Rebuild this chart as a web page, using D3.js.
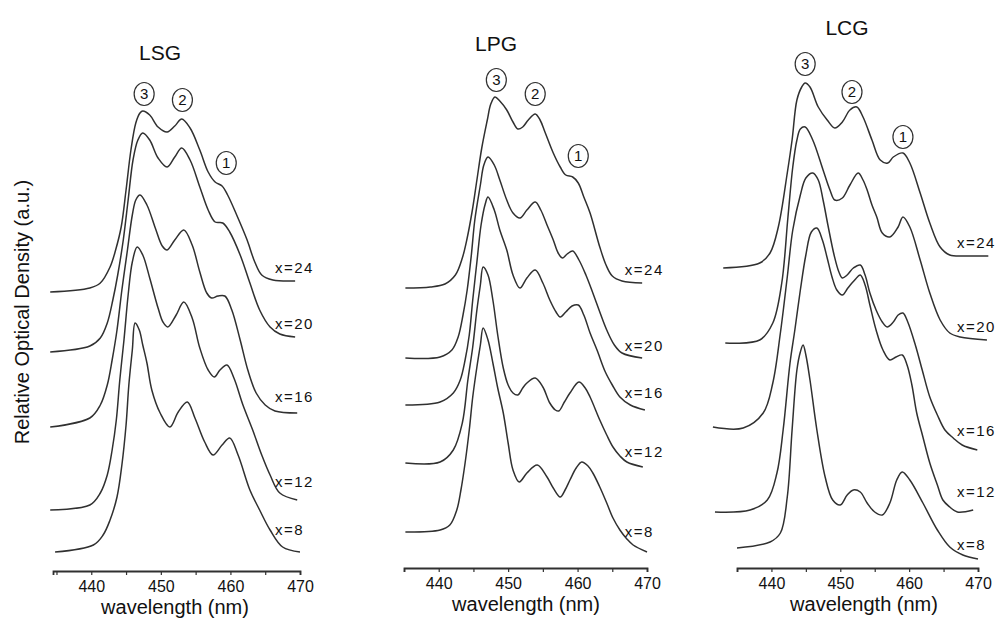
<!DOCTYPE html>
<html>
<head>
<meta charset="utf-8">
<script src="https://cdn.jsdelivr.net/npm/d3@7"></script>
<style>
  body { margin: 0; background: #fff; }
  svg { display: block; font-family: "Liberation Sans", Arial, Helvetica, sans-serif; }
</style>
</head>
<body>
<svg id="chart" width="998" height="621"></svg>
<script>
// ---- data: absorption spectra, [wavelength nm, relative optical density a.u.] (stacked) ----
const panelNames = ["LSG", "LPG", "LCG"];
const sampleLabels = ["x=24", "x=20", "x=16", "x=12", "x=8"];
const wavelengthTicks = [440, 450, 460, 470];
const peakNames = ["3", "2", "1"];

const lsgX24 = [[434.1,2.79],[439.8,2.83],[441.3,2.88],[442.7,3.04],[443.5,3.21],[444.3,3.44],[445.0,3.81],[445.7,4.21],[446.4,4.48],[447.0,4.58],[447.4,4.60],[448.4,4.56],[449.6,4.44],[450.9,4.39],[452.0,4.45],[453.0,4.52],[454.2,4.43],[455.6,4.21],[456.8,3.99],[457.8,3.89],[458.8,3.85],[459.6,3.76],[460.9,3.56],[462.4,3.31],[463.5,3.09],[464.5,2.96],[466.1,2.91],[469.3,2.90]];
const lsgX20 = [[434.1,2.19],[439.8,2.25],[441.3,2.33],[442.3,2.48],[443.1,2.71],[443.8,2.96],[444.6,3.31],[445.3,3.71],[446.0,4.11],[446.7,4.31],[447.4,4.38],[448.4,4.31],[449.6,4.13],[450.9,4.04],[452.0,4.14],[453.0,4.23],[454.2,4.11],[455.6,3.84],[456.8,3.61],[457.8,3.49],[458.9,3.48],[459.9,3.39],[461.4,3.16],[462.8,2.88],[464.2,2.61],[465.7,2.44],[467.1,2.37],[469.3,2.34]];
const lsgX16 = [[434.1,1.44],[439.8,1.53],[441.3,1.66],[442.3,1.86],[443.0,2.11],[443.7,2.41],[444.4,2.81],[445.2,3.21],[445.9,3.56],[446.4,3.71],[447.0,3.76],[448.0,3.66],[449.2,3.43],[450.2,3.25],[450.9,3.21],[452.0,3.31],[453.3,3.41],[454.5,3.26],[455.6,2.99],[456.6,2.78],[457.3,2.73],[458.2,2.75],[459.2,2.75],[460.2,2.61],[461.4,2.31],[462.5,2.01],[463.7,1.78],[465.0,1.66],[466.4,1.60],[469.6,1.58]];
const lsgX12 = [[434.1,0.61],[439.8,0.66],[441.3,0.78],[442.3,0.96],[443.0,1.21],[443.6,1.51],[444.1,1.91],[444.7,2.31],[445.3,2.76],[445.9,3.09],[446.6,3.24],[447.4,3.16],[448.4,2.93],[449.6,2.63],[450.3,2.49],[451.0,2.44],[452.2,2.56],[453.3,2.69],[454.5,2.53],[455.6,2.23],[456.8,2.01],[457.7,1.94],[458.5,2.01],[459.5,2.06],[460.5,1.93],[461.8,1.66],[463.2,1.41],[464.5,1.16],[465.7,0.96],[467.1,0.78],[469.6,0.71]];
const lsgX8 = [[434.8,0.19],[440.3,0.26],[441.7,0.36],[442.7,0.51],[443.7,0.74],[444.4,1.06],[445.0,1.46],[445.4,1.86],[445.9,2.21],[446.3,2.48],[446.9,2.41],[447.4,2.26],[448.0,2.08],[448.7,1.81],[449.9,1.58],[451.3,1.44],[452.5,1.59],[453.8,1.69],[454.9,1.53],[456.3,1.29],[457.5,1.16],[458.8,1.26],[459.9,1.33],[461.1,1.16],[462.8,0.81],[464.2,0.61],[465.7,0.41],[467.5,0.24],[470.0,0.19]];

const lpgX24 = [[435.2,2.80],[438.8,2.81],[440.9,2.84],[442.4,2.93],[443.4,3.10],[444.1,3.30],[444.8,3.56],[445.5,3.88],[446.2,4.20],[447.0,4.48],[447.5,4.64],[448.1,4.71],[448.8,4.67],[449.8,4.58],[450.7,4.46],[451.4,4.39],[452.1,4.41],[452.9,4.48],[453.9,4.54],[454.6,4.48],[455.3,4.36],[456.5,4.15],[457.5,4.01],[458.3,3.93],[459.3,3.91],[460.1,3.85],[460.9,3.71],[461.8,3.55],[463.2,3.21],[464.1,3.03],[465.0,2.92],[466.4,2.87],[469.3,2.85]];
const lpgX20 = [[435.2,2.10],[440.2,2.11],[441.9,2.18],[442.8,2.31],[443.5,2.53],[444.1,2.78],[444.7,3.13],[445.2,3.48],[446.0,3.83],[446.5,4.03],[447.1,4.11],[448.0,4.03],[448.8,3.88],[449.8,3.68],[450.7,3.55],[451.7,3.50],[452.7,3.58],[453.9,3.66],[454.7,3.58],[455.6,3.43],[456.5,3.28],[457.2,3.15],[457.8,3.10],[458.5,3.14],[459.3,3.17],[460.2,3.08],[461.2,2.93],[462.2,2.75],[463.2,2.56],[464.2,2.38],[465.3,2.23],[466.4,2.15],[469.3,2.10]];
const lpgX16 = [[435.2,1.63],[440.2,1.66],[442.1,1.75],[443.1,1.88],[443.8,2.08],[444.4,2.33],[444.9,2.68],[445.5,3.06],[446.1,3.43],[446.7,3.64],[447.1,3.71],[448.0,3.58],[448.8,3.38],[449.8,3.18],[450.7,2.93],[451.7,2.80],[452.7,2.90],[453.9,2.98],[455.0,2.85],[456.0,2.68],[456.9,2.56],[457.5,2.51],[458.3,2.56],[459.2,2.62],[460.1,2.63],[460.9,2.53],[461.8,2.35],[462.8,2.18],[464.0,1.96],[465.0,1.83],[466.1,1.71],[467.6,1.63],[469.7,1.58]];
const lpgX12 = [[435.2,1.05],[440.2,1.06],[442.1,1.18],[443.4,1.45],[444.2,1.88],[444.9,2.21],[445.5,2.58],[446.0,2.83],[446.4,3.01],[447.1,2.93],[447.8,2.68],[448.5,2.33],[449.3,2.00],[450.0,1.83],[450.7,1.75],[451.4,1.73],[452.1,1.80],[452.7,1.85],[453.9,1.90],[455.0,1.81],[456.0,1.65],[456.8,1.58],[457.3,1.57],[458.1,1.66],[458.9,1.75],[460.2,1.86],[461.1,1.80],[461.8,1.71],[463.2,1.48],[464.2,1.33],[465.1,1.21],[466.1,1.12],[467.1,1.06],[469.4,1.01]];
const lpgX8 = [[435.2,0.36],[440.2,0.38],[441.6,0.43],[442.6,0.58],[443.2,0.78],[443.8,1.05],[444.4,1.38],[444.9,1.71],[445.5,2.01],[446.0,2.23],[446.4,2.40],[447.1,2.28],[447.8,2.05],[448.5,1.80],[449.3,1.55],[450.0,1.25],[450.7,0.98],[451.6,0.86],[452.7,0.95],[454.2,1.03],[455.6,0.91],[456.5,0.80],[457.5,0.71],[458.2,0.78],[458.9,0.88],[459.8,1.00],[460.6,1.06],[461.5,1.02],[462.2,0.95],[463.2,0.81],[464.2,0.65],[465.1,0.50],[466.1,0.38],[467.1,0.29],[468.0,0.23],[470.0,0.16]];

const lcgX24 = [[433.0,3.00],[438.3,3.05],[439.8,3.15],[441.0,3.41],[442.3,3.95],[443.0,4.28],[443.7,4.68],[444.4,4.81],[444.9,4.85],[445.6,4.81],[446.8,4.61],[448.1,4.48],[449.2,4.40],[450.3,4.46],[451.4,4.58],[452.4,4.61],[453.3,4.51],[454.6,4.28],[455.8,4.08],[456.9,4.05],[457.7,4.11],[459.1,4.15],[460.1,4.05],[461.6,3.75],[463.0,3.45],[464.5,3.21],[465.9,3.13],[468.4,3.12],[471.5,3.12]];
const lcgX20 = [[433.3,2.25],[438.3,2.28],[440.2,2.45],[441.5,2.85],[442.4,3.51],[443.1,4.01],[443.7,4.28],[444.2,4.39],[444.9,4.41],[446.0,4.28],[447.5,3.98],[448.5,3.78],[449.2,3.68],[450.3,3.70],[451.4,3.83],[452.6,3.95],[453.3,3.88],[453.9,3.78],[454.6,3.63],[455.3,3.51],[456.1,3.35],[457.2,3.31],[458.4,3.41],[459.1,3.51],[460.1,3.41],[461.6,3.08],[463.0,2.75],[464.5,2.48],[465.9,2.35],[467.4,2.31],[471.3,2.28]];
const lcgX16 = [[431.5,1.41],[435.9,1.40],[438.8,1.55],[440.2,1.85],[441.3,2.35],[442.3,2.91],[443.1,3.38],[444.2,3.73],[445.0,3.90],[446.0,3.95],[446.8,3.88],[447.5,3.68],[448.2,3.43],[449.1,3.13],[449.8,2.96],[450.3,2.90],[451.0,2.93],[451.9,3.00],[452.9,3.03],[453.6,2.93],[454.3,2.75],[455.2,2.58],[456.1,2.46],[456.8,2.41],[457.7,2.46],[458.4,2.53],[459.1,2.55],[459.8,2.46],[460.9,2.23],[461.9,1.98],[463.0,1.71],[464.1,1.53],[465.2,1.38],[466.4,1.30],[467.7,1.23],[469.9,1.18]];
const lcgX12 = [[431.8,0.56],[436.9,0.58],[439.4,0.68],[440.8,0.95],[441.7,1.38],[442.7,2.05],[443.4,2.38],[444.2,2.78],[445.0,3.13],[445.8,3.36],[446.6,3.40],[447.4,3.28],[448.1,3.10],[448.8,2.91],[449.5,2.78],[450.3,2.73],[451.1,2.80],[452.1,2.88],[452.9,2.93],[453.6,2.83],[454.3,2.63],[455.2,2.38],[456.2,2.18],[457.2,2.08],[458.1,2.11],[459.0,2.13],[459.7,2.03],[460.4,1.83],[461.1,1.55],[462.0,1.31],[463.0,1.05],[464.1,0.83],[464.9,0.68],[465.9,0.61],[467.0,0.56],[469.3,0.58]];
const lcgX8 = [[435.0,0.20],[439.8,0.26],[441.3,0.35],[442.3,0.71],[443.0,1.38],[443.7,1.98],[444.2,2.16],[444.6,2.23],[445.0,2.13],[445.6,1.88],[446.6,1.38],[447.8,0.91],[448.9,0.68],[450.0,0.63],[451.0,0.73],[451.9,0.78],[452.9,0.76],[453.9,0.65],[455.0,0.56],[456.1,0.53],[457.2,0.65],[458.2,0.88],[459.0,0.96],[460.1,0.88],[462.0,0.65],[464.1,0.38],[465.9,0.21],[467.8,0.13],[470.0,0.09]];

const lsgSeries = [lsgX24, lsgX20, lsgX16, lsgX12, lsgX8];
const lpgSeries = [lpgX24, lpgX20, lpgX16, lpgX12, lpgX8];
const lcgSeries = [lcgX24, lcgX20, lcgX16, lcgX12, lcgX8];

// ---- layout: pixel placement of each panel, annotation anchors in data units ----
const panels = [
  { name: panelNames[0], series: lsgSeries, domain: [434.5, 470], range: [53, 300], axisY: 571,
    title: [160, 60], xTitleX: 175,
    peakMarks: [[447.6, 4.77], [453.1, 4.71], [459.4, 4.08]],
    labelNm: 466.4, labelAu: [3.03, 2.47, 1.74, 0.89, 0.41] },
  { name: panelNames[1], series: lpgSeries, domain: [435, 470], range: [404, 647], axisY: 568,
    title: [496, 51], xTitleX: 526,
    peakMarks: [[448.3, 4.88], [453.9, 4.74], [460.1, 4.12]],
    labelNm: 466.8, labelAu: [2.98, 2.22, 1.75, 1.16, 0.36] },
  { name: panelNames[2], series: lcgSeries, domain: [435, 470], range: [737, 978], axisY: 568,
    title: [847, 35], xTitleX: 864,
    peakMarks: [[444.9, 5.04], [451.7, 4.76], [459.1, 4.31]],
    labelNm: 466.95, labelAu: [3.25, 2.41, 1.37, 0.76, 0.23] }
];

const ink = "#303030";
const svg = d3.select("#chart");

panels.forEach(p => {
  const x = d3.scaleLinear().domain(p.domain).range(p.range);
  const y = d3.scaleLinear().domain([0, 5.5]).range([p.axisY, p.axisY - 550]);
  const g = svg.append("g").attr("class", "panel");

  // spectra
  const line = d3.line()
    .x(d => x(d[0]))
    .y(d => y(d[1]))
    .curve(d3.curveCatmullRom.alpha(0.5));
  g.append("g").selectAll("path")
    .data(p.series)
    .join("path")
    .attr("d", line)
    .attr("fill", "none")
    .attr("stroke", ink)
    .attr("stroke-width", 1.5)
    .attr("stroke-linejoin", "round");

  // sample labels at the right end of each spectrum
  g.append("g").selectAll("text")
    .data(sampleLabels)
    .join("text")
    .attr("x", x(p.labelNm))
    .attr("y", (d, i) => y(p.labelAu[i]))
    .attr("dy", "0.35em")
    .attr("font-size", 15)
    .attr("letter-spacing", 1.5)
    .attr("fill", "#111")
    .text(d => d);

  // circled peak numbers
  const marks = g.append("g").selectAll("g")
    .data(p.peakMarks)
    .join("g")
    .attr("transform", d => `translate(${x(d[0])},${y(d[1])})`);
  marks.append("ellipse")
    .attr("rx", 10).attr("ry", 11.5)
    .attr("fill", "#fff")
    .attr("stroke", ink)
    .attr("stroke-width", 1.2);
  marks.append("text")
    .attr("text-anchor", "middle")
    .attr("dy", "0.36em")
    .attr("font-size", 15)
    .attr("fill", "#111")
    .text((d, i) => peakNames[i]);

  // wavelength axis
  const axis = d3.axisBottom(x)
    .tickValues(d3.range(435, 470.1, 5).filter(v => v >= p.domain[0]))
    .tickSize(4)
    .tickSizeOuter(4)
    .tickPadding(6)
    .tickFormat(d => wavelengthTicks.includes(d) ? d : "");
  const ax = g.append("g")
    .attr("transform", `translate(0,${p.axisY})`)
    .call(axis);
  ax.select(".domain").attr("stroke", ink).attr("stroke-width", 1.8);
  ax.selectAll(".tick line").attr("stroke", ink).attr("stroke-width", 1.2);
  ax.selectAll(".tick text")
    .attr("font-size", 16)
    .attr("font-family", "\"Liberation Sans\", Arial, sans-serif")
    .attr("fill", "#111");

  ax.append("text")
    .attr("x", p.xTitleX)
    .attr("y", 43)
    .attr("text-anchor", "middle")
    .attr("font-size", 20)
    .attr("fill", "#111")
    .text("wavelength (nm)");

  // panel title
  g.append("text")
    .attr("x", p.title[0])
    .attr("y", p.title[1])
    .attr("text-anchor", "middle")
    .attr("font-size", 21)
    .attr("fill", "#111")
    .text(p.name);
});

// shared vertical axis title
svg.append("text")
  .attr("transform", "translate(29,312) rotate(-90)")
  .attr("text-anchor", "middle")
  .attr("font-size", 20)
  .attr("fill", "#111")
  .text("Relative Optical Density (a.u.)");
</script>
</body>
</html>
